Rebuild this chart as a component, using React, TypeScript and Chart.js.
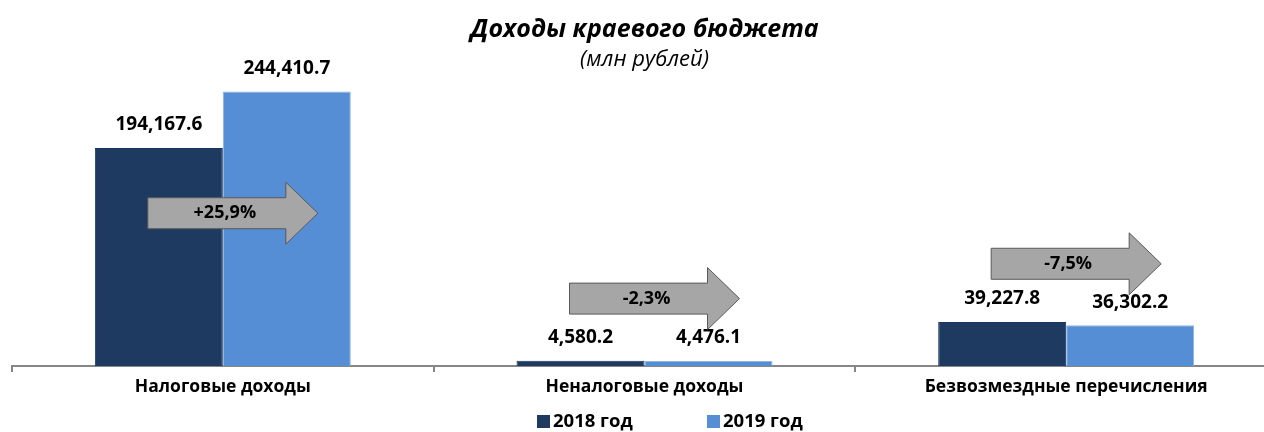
import React, { useEffect, useRef } from "react";
import { Chart, registerables } from "chart.js";

Chart.register(...registerables);

const categories = ["Налоговые доходы", "Неналоговые доходы", "Безвозмездные перечисления"];
const seriesNames = ["2018 год", "2019 год"];
const values2018 = [194167.6, 4580.2, 39227.8];
const values2019 = [244410.7, 4476.1, 36302.2];
const changeLabels = ["+25,9%", "-2,3%", "-7,5%"];
const arrowLevels = [136000, 60000, 91000];
const yMax = 300000;
const titleText = "Доходы краевого бюджета";
const subtitleText = "(млн рублей)";

const DARK = "#1F3A60";
const LIGHT = "#558ED5";
const FONT = "'Open Sans', sans-serif";

const fmt = (v: number) =>
  v.toLocaleString("en-US", { minimumFractionDigits: 1, maximumFractionDigits: 1 });

const overlayPlugin = {
  id: "overlay",
  afterDatasetsDraw(chart: any) {
    const ctx = chart.ctx as CanvasRenderingContext2D;
    const area = chart.chartArea;
    const xs = chart.scales.x;
    const ys = chart.scales.y;
    ctx.save();
    // data labels
    ctx.fillStyle = "#000";
    ctx.font = `bold 19px ${FONT}`;
    ctx.textAlign = "center";
    ctx.textBaseline = "middle";
    chart.data.datasets.forEach((ds: any, di: number) => {
      const meta = chart.getDatasetMeta(di);
      meta.data.forEach((bar: any, i: number) => {
        ctx.fillText(fmt(ds.data[i]), bar.x, bar.y - 23);
      });
    });
    // arrows
    categories.forEach((_, i) => {
      const cx = xs.getPixelForValue(i);
      const cy = ys.getPixelForValue(arrowLevels[i]);
      const L = cx - 75, H = cx + 63, T = cx + 95;
      ctx.beginPath();
      ctx.moveTo(L, cy - 15.5);
      ctx.lineTo(H, cy - 15.5);
      ctx.lineTo(H, cy - 31);
      ctx.lineTo(T, cy);
      ctx.lineTo(H, cy + 31);
      ctx.lineTo(H, cy + 15.5);
      ctx.lineTo(L, cy + 15.5);
      ctx.closePath();
      ctx.fillStyle = "#A6A6A6";
      ctx.fill();
      ctx.strokeStyle = "#595959";
      ctx.lineWidth = 1;
      ctx.stroke();
      ctx.fillStyle = "#000";
      ctx.font = `bold 18px ${FONT}`;
      ctx.fillText(changeLabels[i], cx + 2, cy);
    });
    // title
    const mid = (area.left + area.right) / 2;
    ctx.font = `italic bold 25px ${FONT}`;
    ctx.fillText(titleText, mid, 30);
    ctx.font = `italic 22px ${FONT}`;
    ctx.fillText(subtitleText, mid, 60);
    // legend
    ctx.font = `bold 18.5px ${FONT}`;
    ctx.textAlign = "left";
    const items = [
      { x: 537, color: DARK, label: seriesNames[0] },
      { x: 707, color: LIGHT, label: seriesNames[1] },
    ];
    items.forEach((it) => {
      ctx.fillStyle = it.color;
      ctx.fillRect(it.x, 415, 13, 13);
      ctx.fillStyle = "#000";
      ctx.fillText(it.label, it.x + 16, 422);
    });
    ctx.restore();
  },
};

export default function App() {
  const ref = useRef<HTMLCanvasElement | null>(null);
  useEffect(() => {
    document.body.style.margin = "0";
    if (!ref.current) return;
    const chart = new Chart(ref.current, {
      type: "bar",
      data: {
        labels: categories,
        datasets: [
          {
            label: seriesNames[0],
            data: values2018,
            backgroundColor: DARK,
            borderColor: "#17375E",
            borderWidth: 1,
            categoryPercentage: 0.607,
            barPercentage: 1,
          },
          {
            label: seriesNames[1],
            data: values2019,
            backgroundColor: LIGHT,
            borderColor: "#8EB4E3",
            borderWidth: 1,
            categoryPercentage: 0.607,
            barPercentage: 1,
          },
        ],
      },
      options: {
        responsive: false,
        animation: false,
        layout: { padding: { left: 12, right: 13, top: 29, bottom: 0 } },
        plugins: { legend: { display: false }, title: { display: false }, tooltip: { enabled: false } },
        scales: {
          y: { display: false, min: 0, max: yMax },
          x: {
            afterFit: (scale: any) => {
              scale.height = 66;
            },
            border: { display: true, color: "#868686", width: 2 },
            grid: {
              offset: true,
              drawOnChartArea: false,
              drawTicks: true,
              tickLength: 6,
              color: "#868686",
              lineWidth: 2,
            },
            ticks: {
              color: "#000",
              font: { family: FONT, weight: "bold", size: 17.5 },
              padding: 5,
              maxRotation: 0,
            },
          },
        },
      },
      plugins: [overlayPlugin],
    });
    return () => chart.destroy();
  }, []);
  return (
    <div style={{ position: "fixed", left: 0, top: 0, width: 1264, height: 432, overflow: "hidden", background: "#fff" }}>
      <canvas ref={ref} width={1290} height={432} style={{ width: 1290, height: 432, display: "block" }} />
    </div>
  );
}
